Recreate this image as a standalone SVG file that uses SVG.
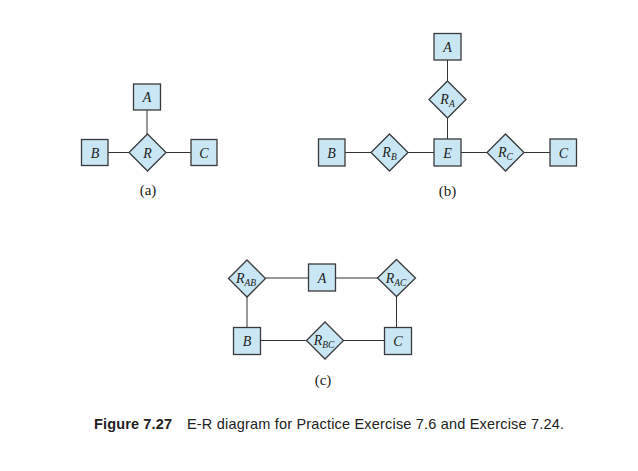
<svg xmlns="http://www.w3.org/2000/svg" width="638" height="471" viewBox="0 0 638 471">
<style>
.ent{fill:#c9e6f4;stroke:#3a3a3a;stroke-width:1.3}
.rel{fill:#c9e6f4;stroke:#3a3a3a;stroke-width:1.3}
.lbl{font-family:"Liberation Serif",serif;font-style:italic;font-size:14px;fill:#222;text-anchor:middle}
.sub{font-size:9.5px}
.cap{font-family:"Liberation Serif",serif;font-size:15px;fill:#222;text-anchor:middle}
.ln{stroke:#333;stroke-width:1;fill:none}
</style>
<rect width="638" height="471" fill="#fff"/>
<g id="connectors">
<line class="ln" x1="147" y1="110" x2="147" y2="134"/>
<line class="ln" x1="108" y1="152.5" x2="129" y2="152.5"/>
<line class="ln" x1="166" y1="152.5" x2="191" y2="152.5"/>
<line class="ln" x1="447.5" y1="60" x2="447.5" y2="81"/>
<line class="ln" x1="447.5" y1="118" x2="447.5" y2="139"/>
<line class="ln" x1="345" y1="152.5" x2="371" y2="152.5"/>
<line class="ln" x1="408" y1="152.5" x2="434" y2="152.5"/>
<line class="ln" x1="461" y1="152.5" x2="487" y2="152.5"/>
<line class="ln" x1="524" y1="152.5" x2="550" y2="152.5"/>
<line class="ln" x1="265.5" y1="278" x2="308.5" y2="278"/>
<line class="ln" x1="335.5" y1="278" x2="378" y2="278"/>
<line class="ln" x1="247" y1="297" x2="247" y2="327.5"/>
<line class="ln" x1="396.5" y1="296.5" x2="396.5" y2="327.5"/>
<line class="ln" x1="260.5" y1="340.5" x2="306.5" y2="340.5"/>
<line class="ln" x1="343.5" y1="340.5" x2="384.5" y2="340.5"/>
</g>
<g id="a-A"><rect class="ent" x="133.5" y="84" width="27" height="26"/><text class="lbl" x="147" y="102">A</text></g>
<g id="a-R"><polygon class="rel" points="147.5,134 166,152.5 147.5,171 129,152.5"/><text class="lbl" x="147.5" y="157.5">R</text></g>
<g id="a-B"><rect class="ent" x="81.5" y="139.5" width="26.5" height="26"/><text class="lbl" x="95" y="157.5">B</text></g>
<g id="a-C"><rect class="ent" x="191" y="139.5" width="26" height="26"/><text class="lbl" x="204" y="157.5">C</text></g>
<text class="cap" x="148" y="195">(a)</text>
<g id="b-A"><rect class="ent" x="434" y="33.5" width="27" height="26.5"/><text class="lbl" x="447.5" y="51.5">A</text></g>
<g id="b-RA"><polygon class="rel" points="447.5,81 466,99.5 447.5,118 429,99.5"/><text class="lbl" x="447.5" y="104">R<tspan class="sub" dy="3">A</tspan></text></g>
<g id="b-E"><rect class="ent" x="434" y="139" width="27" height="27"/><text class="lbl" x="447.5" y="157.5">E</text></g>
<g id="b-B"><rect class="ent" x="318.5" y="139" width="26.5" height="27"/><text class="lbl" x="331.5" y="157.5">B</text></g>
<g id="b-RB"><polygon class="rel" points="389.5,134 408,152.5 389.5,171 371,152.5"/><text class="lbl" x="389.5" y="157">R<tspan class="sub" dy="3">B</tspan></text></g>
<g id="b-RC"><polygon class="rel" points="505.5,134 524,152.5 505.5,171 487,152.5"/><text class="lbl" x="505.5" y="157">R<tspan class="sub" dy="3">C</tspan></text></g>
<g id="b-C"><rect class="ent" x="550" y="139" width="26.5" height="27"/><text class="lbl" x="563.5" y="157.5">C</text></g>
<text class="cap" x="447.5" y="196">(b)</text>
<g id="c-RAB"><polygon class="rel" points="247,260 265.5,278.5 247,297 228.5,278.5"/><text class="lbl" x="246" y="283">R<tspan class="sub" dy="3">AB</tspan></text></g>
<g id="c-A"><rect class="ent" x="308.5" y="264" width="27" height="27"/><text class="lbl" x="322" y="282.5">A</text></g>
<g id="c-RAC"><polygon class="rel" points="396.5,259.5 415.5,278 396.5,296.5 377.5,278"/><text class="lbl" x="396" y="282.5">R<tspan class="sub" dy="3">AC</tspan></text></g>
<g id="c-B"><rect class="ent" x="233.5" y="327.5" width="27" height="27"/><text class="lbl" x="247" y="346">B</text></g>
<g id="c-RBC"><polygon class="rel" points="325,322 343.5,340.5 325,359 306.5,340.5"/><text class="lbl" x="324" y="345">R<tspan class="sub" dy="3">BC</tspan></text></g>
<g id="c-C"><rect class="ent" x="384.5" y="327.5" width="27" height="27"/><text class="lbl" x="398" y="346">C</text></g>
<text class="cap" x="323" y="385">(c)</text>
<text x="94" y="428.5" style="font-family:'Liberation Sans',Arial,sans-serif;font-size:14.5px;fill:#222"><tspan font-weight="bold" textLength="78">Figure 7.27</tspan><tspan x="187" textLength="377">E-R diagram for Practice Exercise 7.6 and Exercise 7.24.</tspan></text>
</svg>
